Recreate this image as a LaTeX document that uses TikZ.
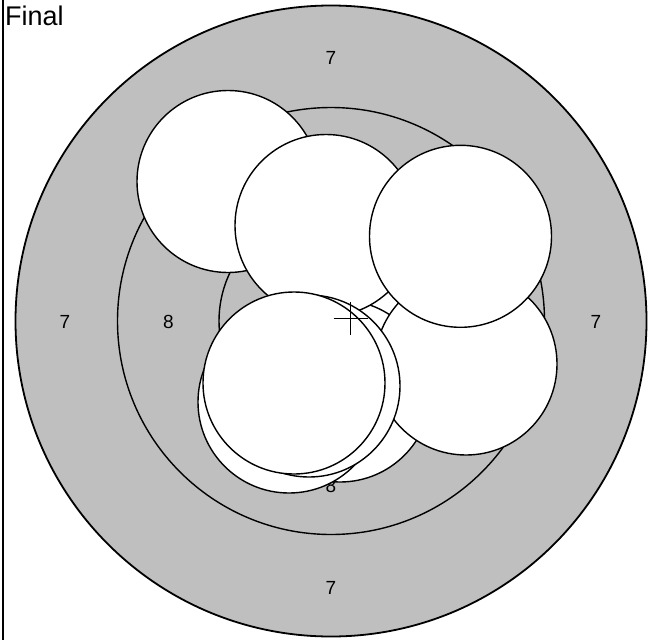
\documentclass[tikz,border=0pt]{standalone}
\usepackage{fontspec}
\setmainfont{Liberation Sans}
\definecolor{ringgray}{RGB}{191,191,191}
\begin{document}
\begin{tikzpicture}[x=1pt,y=-1pt,line width=1.4pt]
\tikzset{
  ring/.style={draw=black,fill=ringgray},
  shot/.style={draw=black,fill=white},
  lbl/.style={font=\fontsize{19}{19}\selectfont,inner sep=0pt},
  crossline/.style={draw=black,line width=1.4pt}
}
\useasboundingbox (0,0) rectangle (661,640);
\fill[white] (0,0) rectangle (661,640);
\draw[line width=1.8pt] (3,0) -- (3,640);
\node[anchor=base west,font=\fontsize{27}{27}\selectfont,inner sep=0pt] (title) at (4.5,25) {Final};
% target rings
\draw[ring,line width=1.8pt] (331,321) circle[radius=315.5pt];
\draw[ring] (331,321) circle[radius=213.5pt];
\draw[ring] (331,321) circle[radius=112pt];
% ring labels
\node[lbl] (s7t) at (331,58) {7};
\node[lbl] (s7b) at (331,588) {7};
\node[lbl] (s7l) at (65,322) {7};
\node[lbl] (s7r) at (596,322) {7};
\node[lbl] (s8l) at (168.5,322) {8};
\node[lbl] (s8b) at (331,486) {8};
% shots
\draw[shot] (360,330) circle[radius=91pt];
\draw[shot] (340,391) circle[radius=91pt];
\draw[shot] (228,181.5) circle[radius=91pt];
\draw[shot] (326,225.5) circle[radius=91pt];
\draw[shot] (466,364) circle[radius=91pt];
\draw[shot] (460.5,236.3) circle[radius=91pt];
\draw[shot] (289,402) circle[radius=91pt];
\draw[shot] (309,386) circle[radius=91pt];
\draw[shot] (294,383) circle[radius=91pt];
% centre mark
\coordinate (cc) at (350.5,318.5);
\draw[crossline] ([xshift=-17pt]cc) -- ([xshift=17pt]cc);
\draw[crossline] ([yshift=-16.5pt]cc) -- ([yshift=16.5pt]cc);
\end{tikzpicture}
\end{document}
